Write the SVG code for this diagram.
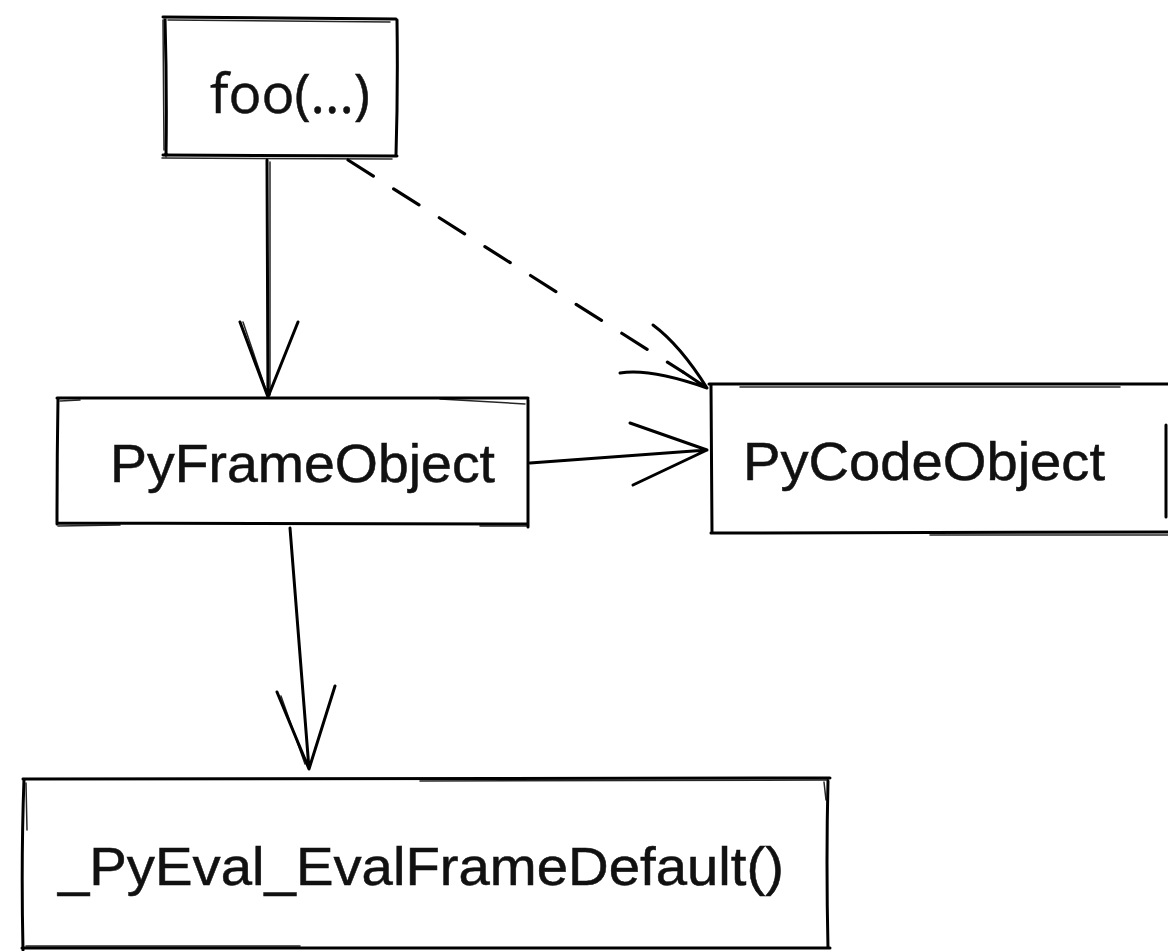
<svg xmlns="http://www.w3.org/2000/svg" width="1168" height="951" viewBox="0 0 1168 951">
<style>
.bx{fill:none;stroke:#000;stroke-width:3;stroke-linecap:round;stroke-linejoin:round}
.bx2{fill:none;stroke:#000;stroke-width:1.5;stroke-linecap:round;opacity:0.85}
.ln{fill:none;stroke:#000;stroke-width:3;stroke-linecap:round;stroke-linejoin:round}
.dash{fill:none;stroke:#000;stroke-width:3.2;stroke-linecap:round;stroke-dasharray:30 24}
.lbl{font-family:"Liberation Sans",Arial,sans-serif;font-size:53px;fill:#111;stroke:#111;stroke-width:0.5}
.foo{font-family:"Open Sans","Noto Sans",sans-serif;font-size:55px;fill:#111;stroke:#111;stroke-width:0.5}
</style>
<rect width="1168" height="951" fill="#fff"/>
<g id="node-foo">
<path class="bx" d="M163,17 L396,19 M165,18 Q167,90 166,156 M397,20 Q398,90 396,155 M163,155 L397,156"/>
<path class="bx2" d="M168,20 L390,22 M162,158 L392,159 M163,20 L164,150"/>
<text class="foo" x="210" y="113" textLength="160" lengthAdjust="spacingAndGlyphs">foo(...)</text>
</g>
<g id="node-pyframe">
<path class="bx" d="M57,398 L528,398 M58,398 Q57,460 57,524 M528,400 L528,527 M57,523 L528,524"/>
<path class="bx2" d="M440,399 L525,404 M60,401 L80,400 M58,526 L120,525 M480,526 L527,526"/>
<text class="lbl" x="110" y="482" textLength="385" lengthAdjust="spacingAndGlyphs">PyFrameObject</text>
</g>
<g id="node-pycode">
<path class="bx" d="M709,384 L1168,384 M711,385 L712,533 M711,533 L1168,532 M1166,425 L1166,517"/>
<path class="bx2" d="M740,387 L1120,387 M930,535 L1168,535"/>
<text class="lbl" x="743" y="480" textLength="362" lengthAdjust="spacingAndGlyphs">PyCodeObject</text>
</g>
<g id="node-pyeval">
<path class="bx" d="M23,779 L830,778 M24,779 Q21,860 23,950 M828,781 Q826,860 828,948 M22,948 L830,948"/>
<path class="bx2" d="M26,783 L27,830 M420,781 L828,780 M824,782 L826,800 M26,946 L300,946"/>
<text class="lbl" x="58" y="885" textLength="726" lengthAdjust="spacingAndGlyphs">_PyEval_EvalFrameDefault()</text>
</g>
<g id="connectors">
<path class="ln" d="M267,160 L268,397 M240,322 L268,397 L298,322"/>
<path class="bx2" d="M270,162 L270,395 M243,322 L266,390"/>
<path class="dash" d="M348,160 L683,372"/>
<path class="ln" d="M683,372 L707,388 M653,325 Q680,345 707,388 M620,373 Q650,368 707,388"/>
<path class="ln" d="M530,463 L707,450 M630,423 L707,450 L633,485"/>
<path class="ln" d="M290,528 L309,769 M277,692 L309,769 L335,686"/>
<path class="bx2" d="M281,696 L305,764"/>
</g>
</svg>
